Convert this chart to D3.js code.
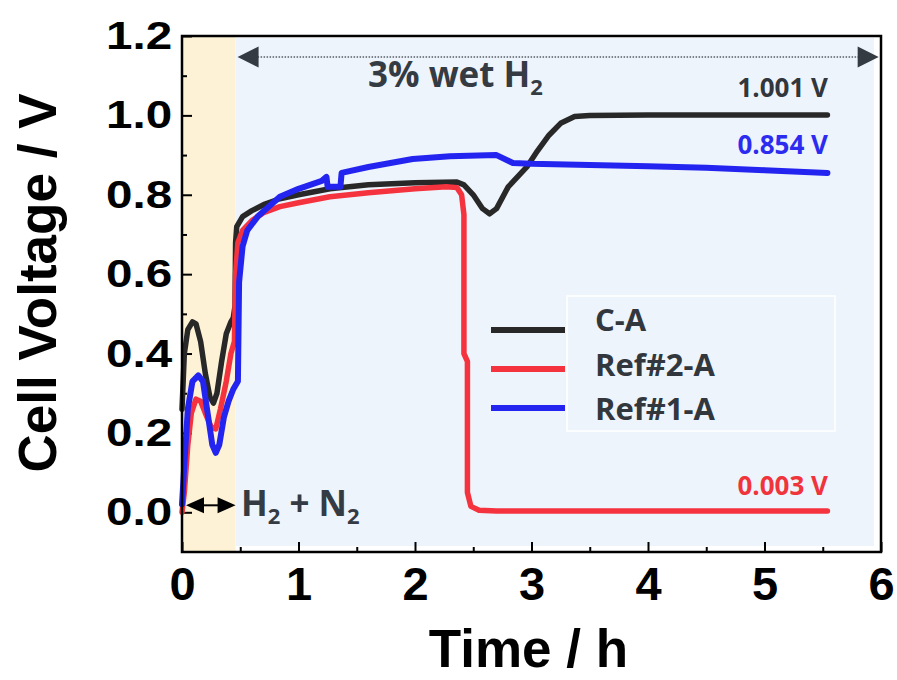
<!DOCTYPE html>
<html>
<head>
<meta charset="utf-8">
<script src="https://cdn.jsdelivr.net/npm/d3@7"></script>
<style>
body { margin: 0; background: #fff; }
svg { display: block; }
</style>
</head>
<body>
<div id="chart"></div>
<script>

// axis ticks
const xTicks = [0, 1, 2, 3, 4, 5, 6];
const xMinor = [0.5, 1.5, 2.5, 3.5, 4.5, 5.5];
const yTicks = [0.0, 0.2, 0.4, 0.6, 0.8, 1.0, 1.2];
const yMinor = [0.1, 0.3, 0.5, 0.7, 0.9, 1.1];

// series
const seriesNames = ["C-A", "Ref#2-A", "Ref#1-A"];
const seriesColors = ["#282828", "#f5333f", "#2424f0"];
const finalLabels = ["1.001 V", "0.003 V", "0.854 V"];
const gasSwitch = 0.46;   // h, H2+N2 -> 3% wet H2

// [time h, voltage V]
const cA = [
    [0.00, 0.26], [0.02, 0.40], [0.05, 0.46], [0.09, 0.48], [0.12, 0.475],
    [0.16, 0.43], [0.20, 0.35], [0.24, 0.29], [0.27, 0.275], [0.30, 0.30],
    [0.34, 0.38], [0.38, 0.45], [0.42, 0.48], [0.44, 0.49], [0.455, 0.52],
    [0.46, 0.68], [0.47, 0.72], [0.52, 0.745], [0.60, 0.76], [0.70, 0.775],
    [0.84, 0.79], [1.00, 0.80], [1.27, 0.815], [1.60, 0.825], [2.00, 0.83],
    [2.36, 0.832], [2.42, 0.825], [2.50, 0.80], [2.58, 0.765], [2.64, 0.752],
    [2.70, 0.765], [2.80, 0.82], [2.96, 0.87], [3.05, 0.91], [3.15, 0.95],
    [3.25, 0.98], [3.37, 0.997], [3.50, 1.00], [4.00, 1.001], [5.00, 1.001],
    [5.54, 1.001]
];

const ref2A = [
    [0.00, 0.00], [0.02, 0.05], [0.05, 0.17], [0.08, 0.25], [0.12, 0.285],
    [0.16, 0.28], [0.20, 0.25], [0.25, 0.215], [0.29, 0.21], [0.33, 0.26],
    [0.38, 0.33], [0.42, 0.40], [0.45, 0.43], [0.46, 0.60], [0.48, 0.68],
    [0.52, 0.71], [0.60, 0.735], [0.70, 0.755], [0.84, 0.77], [1.00, 0.78],
    [1.27, 0.795], [1.60, 0.805], [2.00, 0.815], [2.27, 0.82], [2.36, 0.818],
    [2.40, 0.80], [2.42, 0.75], [2.42, 0.40], [2.45, 0.38], [2.45, 0.05],
    [2.48, 0.015], [2.55, 0.005], [2.70, 0.003], [4.00, 0.003], [5.54, 0.003]
];

const ref1A = [
    [0.00, 0.02], [0.02, 0.12], [0.05, 0.26], [0.09, 0.33], [0.14, 0.345],
    [0.18, 0.33], [0.22, 0.25], [0.26, 0.17], [0.29, 0.15], [0.32, 0.17],
    [0.36, 0.24], [0.40, 0.28], [0.44, 0.31], [0.48, 0.33], [0.49, 0.58],
    [0.52, 0.67], [0.56, 0.71], [0.65, 0.745], [0.84, 0.795], [1.00, 0.815],
    [1.20, 0.835], [1.24, 0.845], [1.25, 0.82], [1.36, 0.82], [1.37, 0.855],
    [1.60, 0.87], [1.98, 0.89], [2.30, 0.897], [2.70, 0.90], [2.84, 0.88],
    [3.00, 0.878], [3.50, 0.875], [4.00, 0.872], [4.50, 0.868], [5.00, 0.862],
    [5.54, 0.855]
];

const seriesData = [cA, ref2A, ref1A];


function drawChart(wrap) {

    const width = 897, height = 680;
    const left = 182, right = 881, top = 36, bottom = 552;

    const x = d3.scaleLinear().domain([0, 6]).range([left, right]);
    const y = d3.scaleLinear().domain([-0.1, 1.2]).range([bottom, top]);

    const svg = d3.select(wrap).append("svg")
        .attr("width", width)
        .attr("height", height)
        .attr("viewBox", [0, 0, width, height])
        ;

    // gas regions
    svg.append("rect")
        .attr("x", x(0)).attr("y", top)
        .attr("width", x(gasSwitch) - x(0)).attr("height", bottom - top)
        .attr("fill", "#fdf2d6")
        ;
    svg.append("rect")
        .attr("x", x(gasSwitch)).attr("y", top + 2)
        .attr("width", x(5.94) - x(gasSwitch)).attr("height", y(-0.085) - top - 2)
        .attr("fill", "#eef4fb")
        ;

    // axes, ticks pointing inward
    const fmt = d3.format(".1f");

    const xAxis = svg.append("g")
        .attr("transform", `translate(0,${bottom})`)
        .call(d3.axisBottom(x).tickValues(xTicks).tickSize(-10).tickPadding(15).tickFormat(d3.format("d")))
        ;
    const xAxisMinor = svg.append("g")
        .attr("transform", `translate(0,${bottom})`)
        .call(d3.axisBottom(x).tickValues(xMinor).tickSize(-5).tickFormat(""))
        ;
    const yAxis = svg.append("g")
        .attr("transform", `translate(${left},0)`)
        .call(d3.axisLeft(y).tickValues(yTicks).tickSize(-10).tickPadding(8).tickFormat(fmt))
        ;
    const yAxisMinor = svg.append("g")
        .attr("transform", `translate(${left},0)`)
        .call(d3.axisLeft(y).tickValues(yMinor).tickSize(-5).tickFormat(""))
        ;

    [xAxis, xAxisMinor, yAxis, yAxisMinor].forEach(a => {
        a.select(".domain").remove();
        a.selectAll(".tick line").attr("stroke", "#000").attr("stroke-width", 2);
    });

    xAxis.selectAll("text")
        .attr("font-family", "'Liberation Sans', Arial, sans-serif")
        .attr("font-weight", "bold")
        .attr("font-size", 47)
        .attr("fill", "#000")
        ;
    yAxis.selectAll("text")
        .attr("font-family", "'Liberation Sans', Arial, sans-serif")
        .attr("font-weight", "bold")
        .attr("font-size", 39)
        .attr("fill", "#000")
        .attr("transform", "scale(1.22,1)")
        ;

    // data lines
    const line = d3.line()
        .x(d => x(d[0]))
        .y(d => y(d[1]))
        ;

    const widths = [5.5, 5.5, 6];
    svg.append("g")
        .attr("fill", "none")
        .attr("stroke-linejoin", "round")
        .attr("stroke-linecap", "round")
    .selectAll("path")
    .data(seriesData)
    .join("path")
        .attr("stroke", (d, i) => seriesColors[i])
        .attr("stroke-width", (d, i) => widths[i])
        .attr("d", line)
        ;

    // frame
    svg.append("rect")
        .attr("x", left).attr("y", top)
        .attr("width", right - left).attr("height", bottom - top)
        .attr("fill", "none")
        .attr("stroke", "#000")
        .attr("stroke-width", 2.5)
        ;

    // axis titles
    svg.append("text")
        .attr("x", (left + right) / 2 - 3)
        .attr("y", 667)
        .attr("text-anchor", "middle")
        .attr("font-family", "'Liberation Sans', Arial, sans-serif")
        .attr("font-weight", "bold")
        .attr("font-size", 53)
        .text("Time / h")
        ;
    svg.append("text")
        .attr("transform", `translate(56,${283}) rotate(-90)`)
        .attr("text-anchor", "middle")
        .attr("font-family", "'Liberation Sans', Arial, sans-serif")
        .attr("font-weight", "bold")
        .attr("font-size", 53)
        .text("Cell Voltage / V")
        ;

    const noteFont = "'Open Sans', 'Noto Sans', sans-serif";
    const noteColor = "#353b43";

    // 3% wet H2 arrow
    const ay = 57;
    const xa = x(gasSwitch) + 2, xb = x(5.98);
    svg.append("line")
        .attr("x1", xa + 20).attr("x2", xb - 20)
        .attr("y1", ay).attr("y2", ay)
        .attr("stroke", "#555c64")
        .attr("stroke-width", 1.5)
        .attr("stroke-dasharray", "1.5,1.5")
        ;
    svg.append("path")
        .attr("d", `M${xa},${ay} L${xa + 21},${ay - 10.5} L${xa + 21},${ay + 10.5} Z
                    M${xb},${ay} L${xb - 21},${ay - 10.5} L${xb - 21},${ay + 10.5} Z`)
        .attr("fill", noteColor)
        ;
    const wet = svg.append("text")
        .attr("x", 368).attr("y", 87)
        .attr("font-family", noteFont)
        .attr("font-weight", "bold")
        .attr("font-size", 35)
        .attr("fill", noteColor)
        ;
    wet.append("tspan").text("3% wet H");
    wet.append("tspan").attr("font-size", 22).attr("dy", 8).text("2");

    // H2 + N2 arrows
    const by = y(0) - 7;
    const x0 = x(0) + 4, x1 = x(gasSwitch);
    svg.append("line")
        .attr("x1", x0 + 10).attr("x2", x1 - 10)
        .attr("y1", by).attr("y2", by)
        .attr("stroke", "#000").attr("stroke-width", 2)
        ;
    svg.append("path")
        .attr("d", `M${x0},${by} L${x0 + 18},${by - 8} L${x0 + 18},${by + 8} Z
                    M${x1},${by} L${x1 - 18},${by - 8} L${x1 - 18},${by + 8} Z`)
        .attr("fill", "#000")
        ;
    const hn = svg.append("text")
        .attr("x", 241).attr("y", 516)
        .attr("font-family", noteFont)
        .attr("font-weight", "bold")
        .attr("font-size", 35)
        .attr("fill", noteColor)
        ;
    hn.append("tspan").text("H");
    hn.append("tspan").attr("font-size", 22).attr("dy", 8).text("2");
    hn.append("tspan").attr("dy", -8).text(" + N");
    hn.append("tspan").attr("font-size", 22).attr("dy", 8).text("2");

    // end values
    const labelY = [97, 495, 154];
    const labelColors = ["#32373d", "#f0343c", "#2c2cf0"];
    svg.append("g")
        .attr("font-family", noteFont)
        .attr("font-weight", "bold")
        .attr("font-size", 26)
        .attr("text-anchor", "end")
    .selectAll("text")
    .data(finalLabels)
    .join("text")
        .attr("x", 828)
        .attr("y", (d, i) => labelY[i])
        .attr("fill", (d, i) => labelColors[i])
        .text(d => d)
        ;

    // legend
    const legend = svg.append("g");
    legend.append("rect")
        .attr("x", 567).attr("y", 296)
        .attr("width", 268).attr("height", 135)
        .attr("fill", "none")
        .attr("stroke", "#ffffff")
        .attr("stroke-width", 1.5)
        ;
    const lineY = [330, 369, 408];
    const textY = [331, 376, 420];
    legend.selectAll("line")
        .data(seriesNames)
        .join("line")
            .attr("x1", 491).attr("x2", 565)
            .attr("y1", (d, i) => lineY[i]).attr("y2", (d, i) => lineY[i])
            .attr("stroke", (d, i) => seriesColors[i])
            .attr("stroke-width", 6)
        ;
    legend.selectAll("text")
        .data(seriesNames)
        .join("text")
            .attr("x", 595)
            .attr("y", (d, i) => textY[i])
            .attr("font-family", noteFont)
            .attr("font-weight", "bold")
            .attr("font-size", 31)
            .attr("fill", "#32373d")
            .text(d => d)
        ;
}

drawChart("#chart");

</script>
</body>
</html>
